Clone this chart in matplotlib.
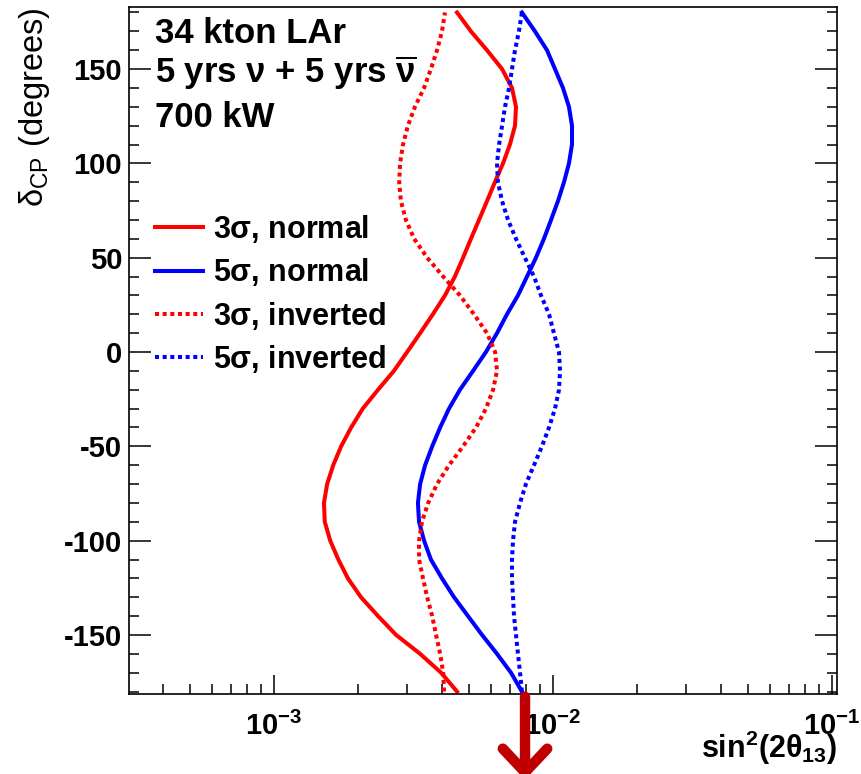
import matplotlib
matplotlib.use("Agg")
import matplotlib.pyplot as plt
from matplotlib.ticker import MultipleLocator, LogLocator, NullFormatter, FixedLocator, FixedFormatter

plt.rcParams['font.family'] = ['Liberation Sans', 'DejaVu Sans']
plt.rcParams['mathtext.fontset'] = 'custom'
plt.rcParams['mathtext.default'] = 'regular'
plt.rcParams['mathtext.rm'] = 'Liberation Sans'
plt.rcParams['mathtext.bf'] = 'Liberation Sans:bold'
plt.rcParams['axes.unicode_minus'] = False

# ---- data: delta_CP (degrees) and sin^2(2 theta13) ----
delta_cp = [-180, -170, -160, -150, -140, -130, -120, -110, -100, -90, -80, -70, -60, -50, -40,
            -30, -20, -10, 0, 10, 20, 30, 40, 50, 60, 70, 80, 90, 100, 110, 120, 130, 140, 150,
            160, 170, 180]

s2_3s_normal = [4.53e-3, 3.97e-3, 3.34e-3, 2.74e-3, 2.36e-3, 2.05e-3, 1.84e-3, 1.70e-3, 1.59e-3,
                1.52e-3, 1.51e-3, 1.55e-3, 1.63e-3, 1.74e-3, 1.89e-3, 2.08e-3, 2.36e-3, 2.69e-3,
                3.00e-3, 3.34e-3, 3.71e-3, 4.10e-3, 4.45e-3, 4.76e-3, 5.08e-3, 5.43e-3, 5.80e-3,
                6.19e-3, 6.62e-3, 7.01e-3, 7.31e-3, 7.37e-3, 7.13e-3, 6.57e-3, 5.80e-3, 5.08e-3,
                4.53e-3]

s2_5s_normal = [7.74e-3, 7.07e-3, 6.30e-3, 5.57e-3, 4.96e-3, 4.42e-3, 4.00e-3, 3.65e-3, 3.45e-3,
                3.31e-3, 3.28e-3, 3.34e-3, 3.48e-3, 3.69e-3, 3.94e-3, 4.24e-3, 4.64e-3, 5.17e-3,
                5.75e-3, 6.30e-3, 6.84e-3, 7.49e-3, 8.07e-3, 8.69e-3, 9.28e-3, 9.84e-3, 1.042e-2,
                1.095e-2, 1.141e-2, 1.170e-2, 1.170e-2, 1.141e-2, 1.086e-2, 1.017e-2, 9.52e-3,
                8.62e-3, 7.74e-3]

s2_3s_inverted = [4.07e-3, 4.04e-3, 3.94e-3, 3.81e-3, 3.69e-3, 3.54e-3, 3.42e-3, 3.31e-3, 3.31e-3,
                  3.39e-3, 3.57e-3, 3.84e-3, 4.24e-3, 4.76e-3, 5.30e-3, 5.75e-3, 6.10e-3, 6.30e-3,
                  6.20e-3, 5.80e-3, 5.21e-3, 4.64e-3, 4.04e-3, 3.54e-3, 3.18e-3, 2.97e-3, 2.85e-3,
                  2.81e-3, 2.83e-3, 2.90e-3, 3.02e-3, 3.20e-3, 3.45e-3, 3.65e-3, 3.84e-3, 4.00e-3,
                  4.10e-3]

s2_5s_inverted = [7.74e-3, 7.62e-3, 7.49e-3, 7.37e-3, 7.25e-3, 7.19e-3, 7.13e-3, 7.13e-3, 7.19e-3,
                  7.31e-3, 7.62e-3, 8.00e-3, 8.55e-3, 9.13e-3, 9.68e-3, 1.017e-2, 1.051e-2, 1.060e-2,
                  1.051e-2, 1.008e-2, 9.68e-3, 9.06e-3, 8.55e-3, 7.93e-3, 7.37e-3, 6.90e-3, 6.57e-3,
                  6.35e-3, 6.30e-3, 6.41e-3, 6.57e-3, 6.73e-3, 6.96e-3, 7.13e-3, 7.31e-3, 7.55e-3,
                  7.74e-3]

labels = [r'3$\sigma$, normal', r'5$\sigma$, normal', r'3$\sigma$, inverted', r'5$\sigma$, inverted']
ytick_vals = [-150, -100, -50, 0, 50, 100, 150]
ytick_labels = ['-150', '-100', '-50', '0', '50', '100', '150']
xtick_vals = [1e-3, 1e-2, 1e-1]
xtick_labels = [r'$10^{-3}$', r'$10^{-2}$', r'$10^{-1}$']
header = ['34 kton LAr', r'5 yrs $\nu$ + 5 yrs $\overline{\nu}$', '700 kW']
arrow_x = 7.94e-3

# ---- figure ----
fig = plt.figure(figsize=(8.61, 7.74), dpi=100)
ax = fig.add_axes([129/861, 1 - 694/774, (837 - 129)/861, (694 - 7)/774])

lw = 2.9
dots = (0, (1.0, 0.9))
ax.plot(s2_3s_normal, delta_cp, color='#ff0000', lw=lw, ls='-', label=labels[0])
ax.plot(s2_5s_normal, delta_cp, color='#0000ff', lw=lw, ls='-', label=labels[1])
ax.plot(s2_3s_inverted, delta_cp, color='#ff0000', lw=lw, ls=dots, label=labels[2])
ax.plot(s2_5s_inverted, delta_cp, color='#0000ff', lw=lw, ls=dots, label=labels[3])

ax.set_xscale('log')
ax.set_xlim(3.02e-4, 0.1043)
ax.set_ylim(-181.3, 182.9)

ax.xaxis.set_major_locator(FixedLocator(xtick_vals))
ax.xaxis.set_major_formatter(FixedFormatter(xtick_labels))
ax.xaxis.set_minor_locator(LogLocator(base=10, subs=range(2, 10), numticks=20))
ax.xaxis.set_minor_formatter(NullFormatter())
ax.yaxis.set_major_locator(FixedLocator(ytick_vals))
ax.yaxis.set_major_formatter(FixedFormatter(ytick_labels))
ax.yaxis.set_minor_locator(MultipleLocator(10))

ax.tick_params(axis='both', which='both', direction='in', width=1.1, colors='black')
ax.tick_params(axis='y', which='both', left=True, right=True)
ax.tick_params(axis='x', which='both', top=False, bottom=True)
ax.tick_params(axis='y', which='major', length=15.5, pad=5, labelsize=21)
ax.tick_params(axis='y', which='minor', length=7)
ax.tick_params(axis='x', which='major', length=13.5, pad=13, labelsize=21)
ax.tick_params(axis='x', which='minor', length=7)
for lab in ax.get_xticklabels() + ax.get_yticklabels():
    lab.set_fontweight('bold')
for sp in ax.spines.values():
    sp.set_linewidth(1.2)

ax.set_xlabel(r'$sin^{2}(2\theta_{13})$', fontsize=22, fontweight='bold', loc='right')
ax.xaxis.set_label_coords(1.0, -0.05)
ax.xaxis.label.set_va('top')
ax.set_ylabel(r'$\delta_{CP}$ (degrees)', fontsize=23.5, fontweight='normal', loc='top')
ax.yaxis.set_label_coords(-0.109, 1.0)

ys = [0.948, 0.889, 0.825]
for t, yy in zip(header, ys):
    ax.text(0.037, yy, t, transform=ax.transAxes, fontsize=25, fontweight='bold', va='baseline', ha='left')

leg = ax.legend(loc='upper left', bbox_to_anchor=(0.037, 0.700), frameon=False,
                prop={'size': 22, 'weight': 'bold'}, handlelength=1.57, handletextpad=0.33,
                labelspacing=0.37, borderpad=0, borderaxespad=0)

ax.annotate('', xy=(arrow_x, -0.125), xytext=(arrow_x, -0.004),
            xycoords=('data', 'axes fraction'), textcoords=('data', 'axes fraction'),
            arrowprops=dict(arrowstyle='->, head_length=1.7, head_width=1.6', lw=7.5,
                            color='#c00000', shrinkA=0, shrinkB=0),
            annotation_clip=False)

fig.savefig('out.png', dpi=100)
